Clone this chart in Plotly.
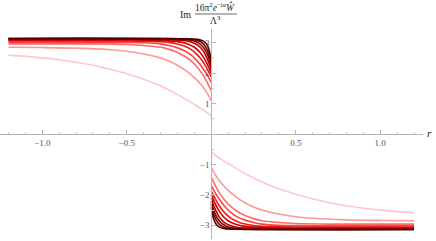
import plotly.graph_objects as go

# Right-hand branch (r > 0) of each curve; the left branch is the odd mirror image.
r1 = [0, 0.05, 0.1, 0.2, 0.3, 0.4, 0.5, 0.6, 0.7, 0.8, 0.9, 1.0, 1.1, 1.2]
v1 = [-0.60, -0.80, -0.97, -1.30, -1.58, -1.80, -1.98, -2.13, -2.26, -2.36, -2.44, -2.50, -2.55, -2.59]
r2 = [0, 0.02, 0.05, 0.1, 0.15, 0.2, 0.25, 0.3, 0.4, 0.5, 0.6, 0.8, 1.0, 1.2]
v2 = [-1.10, -1.30, -1.55, -1.85, -2.08, -2.26, -2.40, -2.50, -2.63, -2.72, -2.77, -2.82, -2.84, -2.85]
r3 = [0, 0.02, 0.05, 0.1, 0.15, 0.2, 0.25, 0.3, 0.4, 0.5, 0.7, 1.2]
v3 = [-1.42, -1.65, -1.95, -2.30, -2.53, -2.68, -2.78, -2.85, -2.91, -2.94, -2.96, -2.96]
r4 = [0, 0.02, 0.05, 0.08, 0.12, 0.16, 0.2, 0.25, 0.3, 0.4, 0.5, 0.7, 1.2]
v4 = [-1.70, -1.90, -2.16, -2.38, -2.60, -2.74, -2.83, -2.91, -2.96, -3.00, -3.01, -3.02, -3.02]
r5 = [0, 0.02, 0.05, 0.08, 0.12, 0.16, 0.2, 0.25, 0.3, 0.4, 0.6, 1.2]
v5 = [-1.88, -2.10, -2.38, -2.59, -2.78, -2.89, -2.96, -3.01, -3.03, -3.05, -3.06, -3.06]
r6 = [0, 0.02, 0.04, 0.07, 0.1, 0.14, 0.18, 0.25, 0.35, 0.6, 1.2]
v6 = [-2.00, -2.25, -2.47, -2.70, -2.85, -2.96, -3.02, -3.06, -3.08, -3.09, -3.09]
r7 = [0, 0.015, 0.03, 0.05, 0.08, 0.12, 0.16, 0.22, 0.3, 0.5, 1.2]
v7 = [-2.10, -2.35, -2.55, -2.75, -2.92, -3.02, -3.07, -3.09, -3.10, -3.11, -3.11]
r8 = [0, 0.01, 0.025, 0.04, 0.06, 0.09, 0.13, 0.18, 0.3, 1.2]
v8 = [-2.20, -2.42, -2.65, -2.80, -2.93, -3.03, -3.09, -3.11, -3.12, -3.13]
r9 = [0, 0.01, 0.02, 0.035, 0.05, 0.08, 0.12, 0.2, 1.2]
v9 = [-2.30, -2.55, -2.72, -2.88, -2.98, -3.07, -3.11, -3.13, -3.14]
r10 = [0, 0.008, 0.016, 0.03, 0.05, 0.08, 0.15, 1.2]
v10 = [-2.40, -2.65, -2.82, -2.97, -3.06, -3.11, -3.13, -3.14]

curves_r = [r1, r2, r3, r4, r5, r6, r7, r8, r9, r10]
curves_v = [v1, v2, v3, v4, v5, v6, v7, v8, v9, v10]
colors = ["rgb(255,200,200)", "rgb(255,150,150)", "rgb(255,105,105)", "rgb(255,65,65)",
          "rgb(240,25,25)", "rgb(215,0,0)", "rgb(180,0,0)", "rgb(145,0,0)",
          "rgb(112,0,0)", "rgb(80,0,0)"]

xticks = [-1.0, -0.5, 0.5, 1.0]
xticklabels = ["\u22121.0", "\u22120.5", "0.5", "1.0"]
yticks = [-3, -2, -1, 1, 2, 3]
yticklabels = ["\u22123", "\u22122", "\u22121", "1", "2", "3"]

fig = go.Figure()
for rr, vv, c in zip(curves_r, curves_v, colors):
    xs = [-x for x in rr[::-1]] + [None] + list(rr)
    ys = [-y for y in vv[::-1]] + [None] + list(vv)
    fig.add_trace(go.Scatter(x=xs, y=ys, mode="lines",
                             line=dict(color=c, width=1.6, shape="spline", smoothing=0.8),
                             connectgaps=False, hoverinfo="skip"))

XMIN, XMAX = -1.25, 1.253
PW = 423.0  # plot-area width in px
def px(page_x):
    return page_x / PW
def py(page_y):
    return (239 - page_y) / 210

tickfont = dict(family="Liberation Serif", size=9, color="#555555")
fig.update_layout(
    width=436, height=241,
    margin=dict(l=0, r=13, t=29, b=2, autoexpand=False),
    paper_bgcolor="white", plot_bgcolor="white",
    showlegend=False,
    xaxis=dict(range=[XMIN, XMAX], anchor="free", position=0.5, automargin=False,
               showgrid=False, zeroline=False, showline=True, linecolor="#b5b5b5", linewidth=1,
               tickvals=xticks, ticktext=xticklabels, ticks="inside", ticklen=4,
               tickcolor="#b5b5b5", tickfont=tickfont,
               minor=dict(dtick=0.1, ticks="inside", ticklen=2, tickcolor="#c8c8c8")),
    yaxis=dict(range=[-3.45, 3.45], anchor="free", position=(0 - XMIN) / (XMAX - XMIN),
               automargin=False,
               showgrid=False, zeroline=False, showline=True, linecolor="#b5b5b5", linewidth=1,
               tickvals=yticks, ticktext=yticklabels, ticks="inside", ticklen=4,
               tickcolor="#b5b5b5", tickfont=tickfont,
               minor=dict(dtick=0.5, ticks="inside", ticklen=2, tickcolor="#c8c8c8")),
)

serif = dict(family="Liberation Serif", size=10, color="#222222")
small = dict(family="Liberation Serif", size=9.5, color="#222222")
fig.add_annotation(text="<i>r</i>", xref="paper", yref="paper", x=px(430), y=py(133),
                   xanchor="center", yanchor="middle",
                   showarrow=False, font=dict(family="Liberation Serif", size=11, color="#222222"))
fig.add_annotation(text="Im", xref="paper", yref="paper", x=px(185), y=py(14),
                   xanchor="center", yanchor="middle", showarrow=False, font=serif)
fig.add_annotation(text="16\u03c0<sup>2</sup><i>e</i><sup>\u2212<i>i\u03b1</i></sup><i>\u0174</i>",
                   xref="paper", yref="paper", x=px(215), y=py(7),
                   xanchor="center", yanchor="middle", showarrow=False, font=small)
fig.add_annotation(text="\u039b<sup>3</sup>", xref="paper", yref="paper", x=px(216), y=py(20),
                   xanchor="center", yanchor="middle", showarrow=False, font=small)
fig.add_shape(type="line", xref="paper", yref="paper", x0=px(195), x1=px(237),
              y0=py(14), y1=py(14), line=dict(color="#444444", width=0.8))

fig.write_html("out.html", config={"displayModeBar": False},
               post_script="document.body.style.margin='0';")
